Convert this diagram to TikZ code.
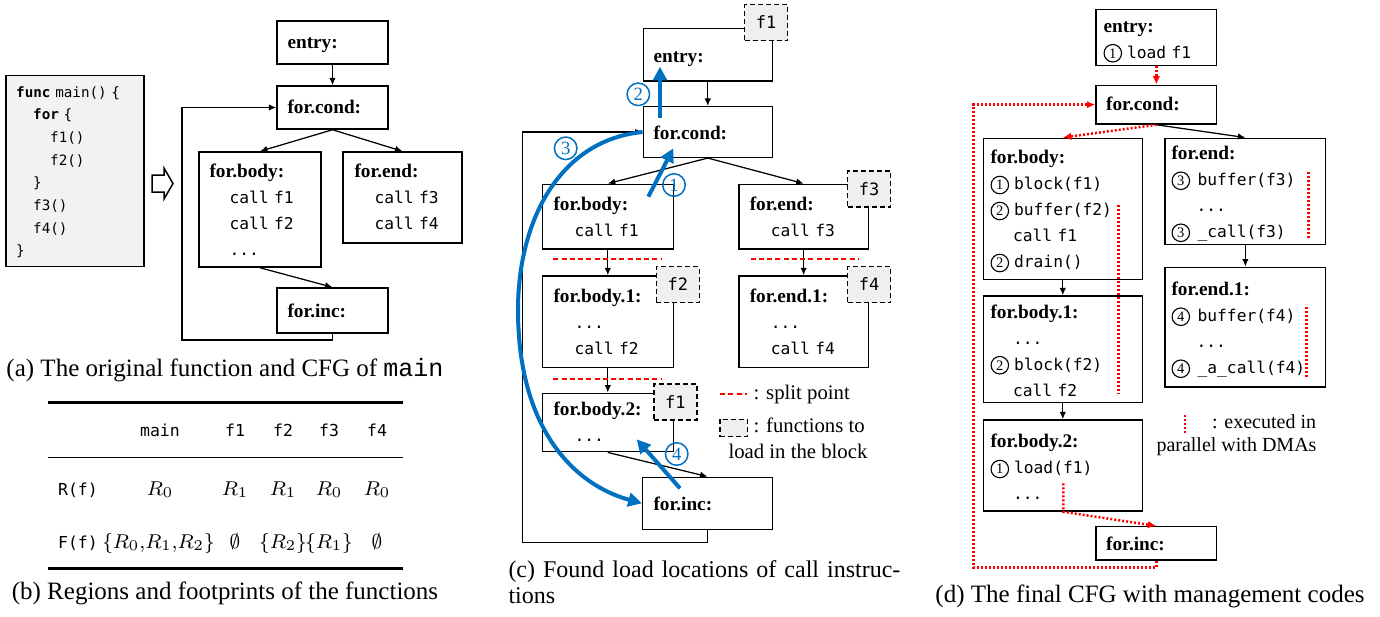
\documentclass[tikz,border=0pt]{standalone}
\usepackage{fontspec}
\setmainfont{Liberation Serif}
\setmonofont{DejaVu Sans Mono}
\newfontfamily\capmono{Liberation Mono}
\usetikzlibrary{arrows.meta}
\definecolor{codegray}{HTML}{F2F2F2}
\definecolor{taggray}{HTML}{EFEFEF}
\definecolor{annblue}{HTML}{0070C0}
\newcommand{\lbl}[1]{{\rmfamily\bfseries\fontsize{7.7}{10.4}\selectfont #1}}
\newcommand{\cn}[1]{\tikz[baseline=(cn.base)]\node[circle, draw, line width=0.45pt, inner sep=0pt, minimum size=7pt, text width=, align=center, font=\rmfamily\fontsize{5.8}{5.8}\selectfont] (cn) {#1};\hspace{2pt}}

\begin{document}
\begin{tikzpicture}[x=0.4pt, y=-0.4pt,
  blk/.style n args={2}{draw, line width=0.6pt, minimum width=#1*0.4pt, minimum height=#2*0.4pt, inner sep=0pt},
  txt/.style={anchor=base west, inner sep=0pt, text width=#1*0.4pt, align=left, font=\fontsize{6.5}{10.4}\selectfont\ttfamily},
  txt/.default=150,
  tag/.style={draw, line width=0.6pt, dash pattern=on 2pt off 1.2pt, fill=taggray, minimum width=43*0.4pt, minimum height=36*0.4pt, inner sep=0pt, font=\fontsize{6.8}{6.8}\selectfont\ttfamily},
  arr/.style={-{Latex[length=3pt,width=2.6pt]}, line width=0.5pt},
  redot/.style={red, line width=1pt, dash pattern=on 0.8pt off 0.8pt},
  splitline/.style={draw=red, line width=0.8pt, dash pattern=on 2pt off 1.3pt},
  bluearr/.style={annblue, line width=1.6pt, -{Triangle[length=5.5pt,width=5.5pt]}},
  bnum/.style={circle, draw=annblue, text=annblue, line width=0.6pt, inner sep=0pt, minimum size=9pt, font=\fontsize{7.5}{7.5}\selectfont},
  tcell/.style={anchor=base, inner sep=0pt, font=\fontsize{6.6}{6.6}\selectfont\ttfamily},
  tmath/.style={anchor=base, inner sep=0pt, font=\fontsize{8}{8}\selectfont},
  capt/.style={anchor=base, inner sep=0pt, font=\fontsize{10}{12}\selectfont},
  legtxt/.style={anchor=base west, inner sep=0pt, font=\fontsize{8.3}{10}\selectfont}]
\useasboundingbox (0,0) rectangle (1380,616);

% (a) source and original CFG
\node[draw, line width=0.6pt, fill=codegray, minimum width=138.3*0.4pt, minimum height=191*0.4pt] (a-code) at (74.9,171.2) {};
\node[anchor=base west, inner sep=0pt, text width=130*0.4pt, align=left, font=\fontsize{5.7}{9.08}\selectfont\ttfamily] (a-code-t) at (15.7,97)
  {\textbf{func} main() \{\\ \hspace*{6.8pt}\textbf{for} \{\\ \hspace*{13.6pt}f1()\\ \hspace*{13.6pt}f2()\\ \hspace*{6.8pt}\}\\ \hspace*{6.8pt}f3()\\ \hspace*{6.8pt}f4()\\ \}};
\draw[line width=0.6pt, fill=white] (152,175) -- (164,175) -- (164,168) -- (173,183.5) -- (164,199) -- (164,192) -- (152,192) -- cycle;

\node[blk={111}{43}] (a-entry) at (332.5,42.5) {};
\node[blk={111}{43}] (a-cond) at (332.5,107.5) {};
\node[blk={122}{115}] (a-body) at (260,209.5) {};
\node[blk={119}{91}] (a-end) at (402.5,197.5) {};
\node[blk={111}{45}] (a-inc) at (332.5,310.5) {};
\node[txt] (a-entry-t) at (287,48.5) {\lbl{entry:}};
\node[txt] (a-cond-t) at (287,113) {\lbl{for.cond:}};
\node[txt] (a-body-t) at (209,177) {\lbl{for.body:}\\ \hspace*{8pt}call f1\\ \hspace*{8pt}call f2\\ \hspace*{8pt}...};
\node[txt] (a-end-t) at (354,177) {\lbl{for.end:}\\ \hspace*{8pt}call f3\\ \hspace*{8pt}call f4};
\node[txt] (a-inc-t) at (287,317) {\lbl{for.inc:}};
\coordinate (a-loop) at (182,340);
\draw[arr] (a-entry) -- (a-cond);
\draw[arr] (a-cond.south) -- (a-body.north);
\draw[arr] (a-cond.south) -- (a-end.north);
\draw[arr] (a-body.south) -- (a-inc.north);
\draw[arr] (a-inc.south) |- (a-loop) |- (a-cond.west);
\node[capt] (a-cap) at (225,376) {(a) The original function and CFG of {\capmono main}};

% (b) regions and footprints
\draw[line width=1pt] (48,402.3) -- (403,402.3);
\draw[line width=0.6pt] (48,457.7) -- (403,457.7);
\draw[line width=1pt] (48,568.3) -- (403,568.3);
\foreach \n/\x in {main/160, f1/235, f2/283, f3/329, f4/377}
  \node[tcell] (b-h-\n) at (\x,436.8) {\n};
\node[tcell] (b-r) at (78,495) {R(f)};
\foreach \i/\x/\v in {0/160/0, 1/235/1, 2/283/1, 3/329/0, 4/377/0}
  \node[tmath] (b-r\i) at (\x,495) {$R_{\v}$};
\node[tcell] (b-f) at (78,548) {F(f)};
\node[tmath] (b-f0) at (158.5,548) {$\{R_0{,}R_1{,}R_2\}$};
\node[tmath] (b-f1) at (235,548) {$\emptyset$};
\node[tmath] (b-f2) at (283,548) {$\{R_2\}$};
\node[tmath] (b-f3) at (329,548) {$\{R_1\}$};
\node[tmath] (b-f4) at (377,548) {$\emptyset$};
\node[capt] (b-cap) at (225,599) {(b) Regions and footprints of the functions};

% (c) load locations
\node[blk={129}{52.7}] (c-entry) at (707.8,54.65) {};
\node[blk={129}{50.6}] (c-cond) at (707.8,132) {};
\node[blk={131}{64.7}] (c-body) at (607.8,216.65) {};
\node[blk={129.3}{64.7}] (c-end) at (803.65,216.65) {};
\node[blk={131}{91.7}] (c-body1) at (607.8,321.85) {};
\node[blk={129.3}{91.7}] (c-end1) at (803.65,321.85) {};
\node[blk={131}{58.4}] (c-body2) at (607.8,422.5) {};
\node[blk={129.6}{52}] (c-inc) at (707.5,503.3) {};
\node[txt] (c-entry-t) at (653,62) {\lbl{entry:}};
\node[txt] (c-cond-t) at (653,139) {\lbl{for.cond:}};
\node[txt] (c-body-t) at (553,210.5) {\lbl{for.body:}\\ \hspace*{8.4pt}call f1};
\node[txt] (c-end-t) at (749.3,210.5) {\lbl{for.end:}\\ \hspace*{8.4pt}call f3};
\node[txt] (c-body1-t) at (553,302) {\lbl{for.body.1:}\\ \hspace*{8.4pt}...\\ \hspace*{8.4pt}call f2};
\node[txt] (c-end1-t) at (749.3,302) {\lbl{for.end.1:}\\ \hspace*{8.4pt}...\\ \hspace*{8.4pt}call f4};
\node[txt] (c-body2-t) at (553,415.5) {\lbl{for.body.2:}\\ \hspace*{8.4pt}...};
\node[txt] (c-inc-t) at (653,510.5) {\lbl{for.inc:}};
\coordinate (c-loop) at (522.3,542.7);
\draw[arr] (c-entry) -- (c-cond);
\draw[arr] (c-cond.south) -- (c-body.north);
\draw[arr] (c-cond.south) -- (c-end.north);
\draw[arr] (c-body) -- (c-body1);
\draw[arr] (c-end) -- (c-end1);
\draw[arr] (c-body1) -- (c-body2);
\draw[arr] (c-body2.south) -- (c-inc.north);
\draw[arr] (c-inc.south) |- (c-loop) |- (c-cond.west);
\draw[splitline] (553.3,259.3) -- (661.7,259.3);
\draw[splitline] (750.7,259.3) -- (858.3,259.3);
\draw[splitline] (553.3,379.3) -- (661.7,379.3);
\node[tag] (c-tag1) at (766,22.5) {f1};
\node[tag] (c-tag3) at (869,189.15) {f3};
\node[tag] (c-tag2) at (677.85,284.5) {f2};
\node[tag] (c-tag4) at (869,284.5) {f4};
\node[tag] (c-tag5) at (675.3,402.15) {f1};
% blue annotations
\coordinate (c-a1s) at (648.3,196.7);
\coordinate (c-a1e) at (673.3,148.3);
\coordinate (c-a2s) at (660,118.3);
\coordinate (c-a2e) at (660,66.7);
\coordinate (c-a4s) at (680,488.3);
\coordinate (c-a4e) at (636.7,439.3);
\draw[bluearr] (c-a1s) -- (c-a1e);
\draw[bluearr] (c-a2s) -- (c-a2e);
\draw[bluearr] (c-cond.west) .. controls (560,140) and (518,220) .. (518,310) .. controls (518,430) and (575,485) .. (c-inc.west);
\draw[bluearr] (c-a4s) -- (c-a4e);
\node[bnum] (c-n1) at (674,185) {1};
\node[bnum] (c-n2) at (638.3,94.3) {2};
\node[bnum] (c-n3) at (565.7,148.3) {3};
\node[bnum] (c-n4) at (676.7,454) {4};
% legend
\coordinate (c-legs) at (720,394.3);
\coordinate (c-lege) at (746.7,394.3);
\draw[splitline] (c-legs) -- (c-lege);
\node[legtxt] (c-leg1) at (753,399) {: split point};
\node[tag, minimum width=27.3*0.4pt, minimum height=17.4*0.4pt] (c-legtag) at (733.65,428) {};
\node[legtxt] (c-leg2) at (753,432) {: functions to};
\node[legtxt] (c-leg3) at (728,458) {load in the block};
\node[anchor=base west, inner sep=0pt, text width=170pt, align=left, font=\fontsize{9.6}{10.4}\selectfont] (c-cap) at (508,577) {(c) Found load locations of call instruc-\\tions};

% (d) final CFG
\node[blk={120.7}{56.4}] (d-entry) at (1156.35,37.5) {};
\node[blk={120.7}{38.7}] (d-cond) at (1156.35,104.65) {};
\node[blk={159}{141}] (d-body) at (1062.8,208.8) {};
\node[blk={160.7}{106}] (d-end) at (1245.35,191.3) {};
\node[blk={159}{106.7}] (d-body1) at (1062.8,349.35) {};
\node[blk={160.7}{119.7}] (d-end1) at (1245.35,327.15) {};
\node[blk={159}{91}] (d-body2) at (1062.8,465.5) {};
\node[blk={120.7}{33.3}] (d-inc) at (1156.35,543.35) {};
\node[txt] (d-entry-t) at (1103,32) {\lbl{entry:}\\ \cn{1}load f1};
\node[txt] (d-cond-t) at (1105.7,110.5) {\lbl{for.cond:}};
\node[txt=170] (d-body-t) at (990,163.8) {\lbl{for.body:}\\ \cn{1}block(f1)\\ \cn{2}buffer(f2)\\ \hspace*{9pt}call f1\\ \cn{2}drain()};
\node[txt=170] (d-end-t) at (1171,159.5) {\lbl{for.end:}\\ \cn{3}\hspace{1pt}buffer(f3)\\ \hspace*{10pt}...\\ \cn{3}\hspace{1pt}\_call(f3)};
\node[txt=170] (d-body1-t) at (990,318) {\lbl{for.body.1:}\\ \hspace*{9pt}...\\ \cn{2}block(f2)\\ \hspace*{9pt}call f2};
\node[txt=170] (d-end1-t) at (1171,295.5) {\lbl{for.end.1:}\\ \cn{4}\hspace{1pt}buffer(f4)\\ \hspace*{10pt}...\\ \cn{4}\hspace{1pt}\_a\_call(f4)};
\node[txt=170] (d-body2-t) at (990,447.8) {\lbl{for.body.2:}\\ \cn{1}load(f1)\\ \hspace*{9pt}...};
\node[txt] (d-inc-t) at (1105.7,550.5) {\lbl{for.inc:}};
\coordinate (d-loop) at (973.3,567.3);
\coordinate (d-b2s) at (1063.3,483.3);
\draw[redot, -{Latex[length=3.4pt,width=3pt]}] (d-entry) -- (d-cond);
\draw[redot, -{Latex[length=3.4pt,width=3pt]}] (d-cond.south) -- (d-body.north);
\draw[arr] (d-cond.south) -- (d-end.north);
\draw[arr] (d-body) -- (d-body1);
\draw[arr] (d-body1) -- (d-body2);
\draw[arr] (d-end) -- (d-end1);
\draw[redot, -{Latex[length=3.4pt,width=3pt]}] (d-b2s) -- (d-b2s |- d-body2.south) -- (d-inc.north);
\draw[redot, -{Latex[length=3.4pt,width=3pt]}] (d-inc.south) |- (d-loop) |- (d-cond.west);
\draw[redot] (1118.3,205) -- (1118.3,393.3);
\draw[redot] (1308.3,171.7) -- (1308.3,239.3);
\draw[redot] (1306.7,307.3) -- (1306.7,376.7);
% legend
\coordinate (d-legs) at (1185,415);
\coordinate (d-lege) at (1185,432.7);
\draw[redot] (d-legs) -- (d-lege);
\node[legtxt, font=\fontsize{8}{10}\selectfont] (d-leg1) at (1211.7,428) {: executed in};
\node[legtxt, font=\fontsize{8}{10}\selectfont] (d-leg2) at (1156,451) {parallel with DMAs};
\node[capt] (d-cap) at (1150,602) {(d) The final CFG with management codes};
\end{tikzpicture}
\end{document}
